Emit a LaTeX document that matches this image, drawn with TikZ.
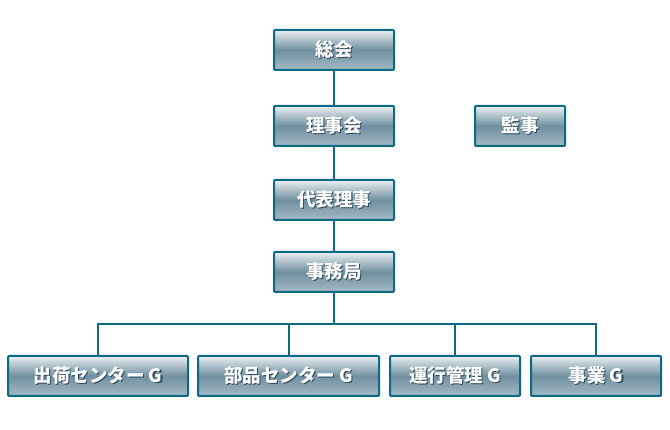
\documentclass[tikz,border=0pt]{standalone}
\usepackage{fontspec}
\usepackage{xcolor}
\newfontfamily\jpfont{Noto Sans CJK JP}
\definecolor{boxline}{HTML}{0B6A86}
\definecolor{boxtop}{HTML}{EBEFF2}
\definecolor{boxmid}{HTML}{6F8FA0}
\definecolor{boxbot}{HTML}{A5BAC5}
\definecolor{txtshadow}{HTML}{2E4A5A}
\newcommand{\boxlabel}[1]{%
    \rlap{\raisebox{-1.2pt}{\hspace{1.2pt}\textcolor{txtshadow}{#1}}}%
    \textcolor{white}{#1}}
\tikzset{
    orgbox/.style={draw=boxline, line width=2pt, rounded corners=1pt,
        top color=boxtop, bottom color=boxbot, middle color=boxmid,
        minimum height=40pt, inner sep=0pt,
        font=\jpfont\bfseries\fontsize{18.5}{18.5}\selectfont},
    orgline/.style={draw=boxline, line width=2pt}
}
\begin{document}
\begin{tikzpicture}[x=1pt,y=-1pt]
    \useasboundingbox (0,0) rectangle (670,430);

    % upper column
    \node[orgbox,minimum width=120pt] (soukai)    at (334,50)  {\boxlabel{総会}};
    \node[orgbox,minimum width=120pt] (rijikai)   at (334,126) {\boxlabel{理事会}};
    \node[orgbox,minimum width=90pt]  (kanji)     at (520,126) {\boxlabel{監事}};
    \node[orgbox,minimum width=120pt] (daihyo)    at (334,200) {\boxlabel{代表理事}};
    \node[orgbox,minimum width=120pt] (jimukyoku) at (334,272) {\boxlabel{事務局}};

    % groups
    \node[orgbox,minimum width=180pt] (shukka) at (98,376)    {\boxlabel{出荷センター G}};
    \node[orgbox,minimum width=181pt] (buhin)  at (288.5,376) {\boxlabel{部品センター G}};
    \node[orgbox,minimum width=130pt] (unko)   at (455,376)   {\boxlabel{運行管理 G}};
    \node[orgbox,minimum width=130pt] (jigyo)  at (596,376)   {\boxlabel{事業 G}};

    \coordinate (bus) at (334,324);

    \draw[orgline] (soukai) -- (rijikai);
    \draw[orgline] (rijikai) -- (daihyo);
    \draw[orgline] (daihyo) -- (jimukyoku);
    \draw[orgline] (jimukyoku) -- (bus);
    \draw[orgline] (shukka.north) |- (bus) -| (jigyo.north);
    \draw[orgline] (buhin.north) |- (bus);
    \draw[orgline] (unko.north) |- (bus);
\end{tikzpicture}
\end{document}
